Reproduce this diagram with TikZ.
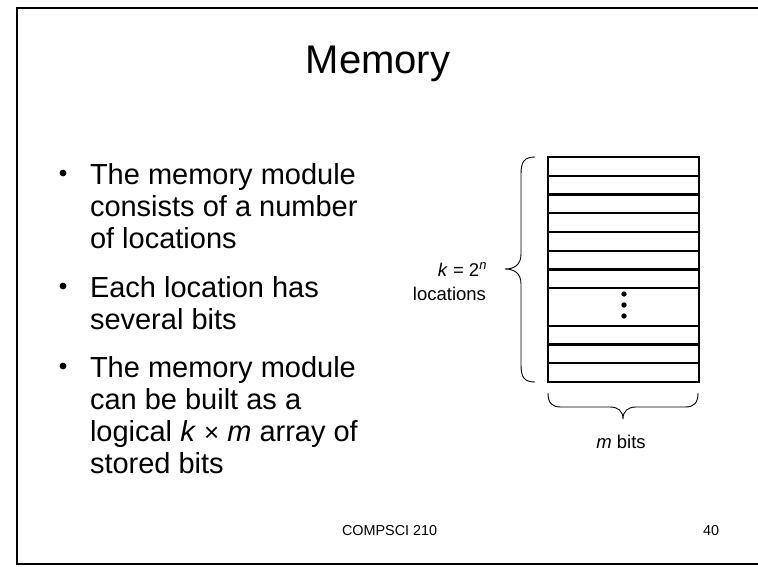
\documentclass[tikz,border=0pt]{standalone}
\usepackage{fontspec}
\setmainfont{Liberation Sans}
\begin{document}
\begin{tikzpicture}[x=1pt,y=-1pt,
  txt/.style={inner sep=0pt, outer sep=0pt, anchor=base west},
  body/.style={txt, font=\fontsize{29}{33}\selectfont},
  small/.style={inner sep=0pt, outer sep=0pt, font=\fontsize{18.5}{22}\selectfont},
  foot/.style={txt, font=\fontsize{14.4}{17}\selectfont},
  grid/.style={line width=2.2pt},
  bracepath/.style={line width=0.9pt, line join=round},
  bulletdot/.style={fill=black}]
\useasboundingbox (0,0) rectangle (758,566);
% frame
\draw[line width=2.5pt] (770,8) -- (17,8) -- (17,564) -- (770,564);
% title
\node[inner sep=0pt, anchor=base, font=\fontsize{40}{44}\selectfont] (title) at (378,73) {Memory};
% bullets
\foreach \y in {173,286,366} {\fill[bulletdot] (63,\y) circle (3.4);}
\node[body] (l1) at (90,184) {The memory module};
\node[body] (l2) at (90,216) {consists of a number};
\node[body] (l3) at (90,248) {of locations};
\node[body] (l4) at (90,297) {Each location has};
\node[body] (l5) at (90,329) {several bits};
\node[body] (l6) at (90,377) {The memory module};
\node[body] (l7) at (90,409) {can be built as a};
\node[body] (l8) at (90,441) {logical \textit{k} {\fontsize{26}{30}\selectfont ×} \textit{m} array of};
\node[body] (l9) at (90,473) {stored bits};
% memory array
\draw[grid] (548,157) rectangle (699,382);
\foreach \i in {1,2,3,4,5,6,7,9,10,11} {
  \draw[grid] (548,157+18.75*\i) -- (699,157+18.75*\i);
}
\foreach \y in {294,305,316} {\fill (624,\y) circle (2.7);}
% left brace
\draw[bracepath] (535,157) .. controls (524,157) and (521,162) .. (521,174)
  -- (521,254) .. controls (521,265) and (514,269) .. (505,269)
  .. controls (514,269) and (521,273) .. (521,284)
  -- (521,365) .. controls (521,377) and (524,382) .. (535,382);
% bottom brace
\draw[bracepath] (548,393) .. controls (548,403) and (552,407) .. (561,407)
  -- (610,407) .. controls (618,407) and (623,411) .. (623,419)
  .. controls (623,411) and (628,407) .. (636,407)
  -- (685,407) .. controls (694,407) and (698,403) .. (698,393);
% labels
\node[small, anchor=base east] (klab) at (487,276) {\textit{k} = 2\textsuperscript{\textit{n}}};
\node[small, anchor=base east] (loclab) at (486,300) {locations};
\node[small, anchor=base] (mlab) at (621,448) {\textit{m} bits};
% footer
\node[foot] (course) at (342,535) {COMPSCI 210};
\node[foot] (page) at (703,535) {40};
\end{tikzpicture}
\end{document}
